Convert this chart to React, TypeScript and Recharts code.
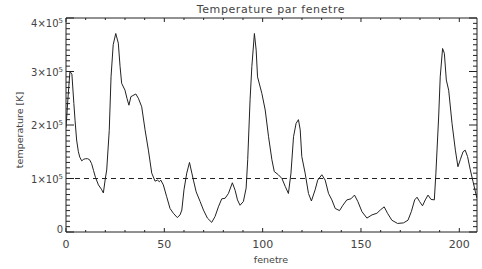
import React from "react";
import { LineChart, Line, XAxis, YAxis, ReferenceLine } from "recharts";

const fenetre = [
  0, 1, 2, 3, 4, 4.6, 5.4, 6.3, 7, 8, 9, 10, 11, 12, 13, 14, 15, 16.5, 18, 19, 20, 20.7, 22, 22.9, 24, 25.3,
  26.6, 27.5, 28.3, 30, 31, 32, 33, 34, 35.5, 36.8, 38.5, 40.2, 41.9, 43.6, 45.3, 46.5, 47.5, 48.2, 49.5,
  51.2, 52.9, 54.6, 56.6, 58, 58.9, 60, 61.4, 62.8, 64, 64.8, 66.2, 68.2, 69.9, 71.9, 74.1, 75.8, 77.5, 79.2,
  80.9, 82.6, 84.6, 86, 87.2, 88.5, 90.2, 91.6, 92.4, 93.6, 94.5, 95.8, 96.7, 97.4, 99.6, 101.3, 103, 104.7,
  105.9, 108, 109.8, 111.5, 113.1, 114.4, 115.7, 117, 118.2, 119.1, 119.9, 121.6, 123.3, 124.8, 126.7, 128,
  130.1, 131.8, 133.5, 135.2, 136.9, 139.1, 140.8, 142.8, 144.9, 146.7, 148.4, 150.5, 153, 155.6, 158.1,
  159.8, 161.8, 163.5, 165.7, 168.6, 171.6, 173.9, 175.6, 177.3, 178.5, 179.8, 181.3, 182.7, 184.1, 185.6,
  187.3, 188.1, 189.5, 190.3, 191.5, 192.4, 193.4, 194.6, 196.3, 198, 199.3, 200.5, 201.9, 203, 204.2, 205.6,
  207, 208.2, 209,
];

const temperature = [
  195000, 250000, 300000, 295000, 240000, 209000, 172000, 150000, 140000, 133000, 136000, 137000, 137000,
  135000, 128000, 115000, 102000, 88000, 80000, 73000, 100000, 116000, 190000, 290000, 350000, 371000,
  353000, 309000, 278000, 265000, 250000, 237000, 253000, 255000, 258000, 250000, 234000, 191000, 153000,
  110000, 95000, 97000, 94000, 97000, 88000, 66000, 44000, 35000, 27000, 32000, 41000, 79000, 110000, 130000,
  110000, 97000, 75000, 57000, 41000, 26000, 18000, 29000, 47000, 62000, 63000, 72000, 92000, 78000, 60000,
  50000, 57000, 82000, 135000, 247000, 309000, 371000, 340000, 290000, 259000, 228000, 178000, 135000,
  113000, 107000, 100000, 85000, 72000, 110000, 178000, 203000, 210000, 191000, 141000, 110000, 72000,
  58000, 79000, 97000, 107000, 97000, 72000, 60000, 44000, 40000, 50000, 60000, 62000, 69000, 57000, 38000,
  26000, 32000, 35000, 41000, 47000, 35000, 22000, 16000, 17000, 22000, 38000, 60000, 65000, 57000, 49000,
  60000, 69000, 61000, 60000, 110000, 215000, 290000, 343000, 334000, 284000, 265000, 203000, 153000,
  122000, 135000, 150000, 153000, 141000, 116000, 94000, 75000, 63000,
];

const xTicks = [0, 10, 20, 30, 40, 50, 60, 70, 80, 90, 100, 110, 120, 130, 140, 150, 160, 170, 180, 190, 200];
const xMajor = [0, 50, 100, 150, 200];
const yTicks = [
  0, 10000, 20000, 30000, 40000, 50000, 60000, 70000, 80000, 90000, 100000, 110000, 120000, 130000, 140000,
  150000, 160000, 170000, 180000, 190000, 200000, 210000, 220000, 230000, 240000, 250000, 260000, 270000,
  280000, 290000, 300000, 310000, 320000, 330000, 340000, 350000, 360000, 370000, 380000, 390000, 400000,
];
const yMajor = [0, 100000, 200000, 300000, 400000];
const threshold = 100000;

const title = "Temperature par fenetre";
const xLabel = "fenetre";
const yLabel = "temperature [K]";

const data = fenetre.map((f, i) => ({ fenetre: f, temperature: temperature[i] }));

const INK = "#222";
const TXT = "#444";
const FONT = "'DejaVu Sans', sans-serif";

const BottomTick = (props: any) => {
  const { x, y, payload } = props;
  const v = payload.value;
  const major = xMajor.includes(v);
  return (
    <g>
      <line x1={x} y1={y} x2={x} y2={y - (major ? 4 : 2)} stroke={INK} strokeWidth={1} />
      {major && (
        <text x={x} y={y + 16} textAnchor="middle" fontSize={11} fontFamily={FONT} fill={TXT}>
          {v}
        </text>
      )}
    </g>
  );
};

const TopTick = (props: any) => {
  const { x, y, payload } = props;
  const major = xMajor.includes(payload.value);
  return <line x1={x} y1={y} x2={x} y2={y + (major ? 4 : 2)} stroke={INK} strokeWidth={1} />;
};

const LeftTick = (props: any) => {
  const { x, y, payload } = props;
  const v = payload.value;
  const major = yMajor.includes(v);
  let dy = 4;
  if (v === 0) dy = 1;
  if (v === 400000) dy = 9;
  return (
    <g>
      <line x1={x} y1={y} x2={x + (major ? 8 : 4)} y2={y} stroke={INK} strokeWidth={1} />
      {major && (
        <text x={x - 3} y={y + dy} textAnchor="end" fontSize={10} fontFamily={FONT} fill={TXT}>
          {v === 0 ? (
            "0"
          ) : (
            <>
              {`${v / 100000}×10`}
              <tspan fontSize={7} dy={-4}>
                5
              </tspan>
            </>
          )}
        </text>
      )}
    </g>
  );
};

const RightTick = (props: any) => {
  const { x, y, payload } = props;
  const major = yMajor.includes(payload.value);
  return <line x1={x} y1={y} x2={x - (major ? 8 : 4)} y2={y} stroke={INK} strokeWidth={1} />;
};

export default function App() {
  return (
    <div style={{ position: "absolute", left: 0, top: 0, width: 482, height: 269, background: "#fff" }}>
      <LineChart width={482} height={269} data={data} margin={{ top: 17, right: 4, bottom: 36, left: 65 }}>
        <XAxis
          xAxisId="b"
          dataKey="fenetre"
          type="number"
          domain={[0, 209]}
          ticks={xTicks}
          allowDataOverflow
          height={1}
          tickSize={0}
          tickMargin={0}
          tickLine={false}
          axisLine={{ stroke: INK }}
          tick={<BottomTick />}
          interval={0}
        />
        <XAxis
          xAxisId="t"
          orientation="top"
          dataKey="fenetre"
          type="number"
          domain={[0, 209]}
          ticks={xTicks}
          allowDataOverflow
          height={1}
          tickSize={0}
          tickMargin={0}
          tickLine={false}
          axisLine={{ stroke: INK }}
          tick={<TopTick />}
          interval={0}
        />
        <YAxis
          yAxisId="l"
          type="number"
          domain={[0, 400000]}
          ticks={yTicks}
          allowDataOverflow
          width={1}
          tickSize={0}
          tickMargin={0}
          tickLine={false}
          axisLine={{ stroke: INK }}
          tick={<LeftTick />}
          interval={0}
        />
        <YAxis
          yAxisId="r"
          orientation="right"
          type="number"
          domain={[0, 400000]}
          ticks={yTicks}
          allowDataOverflow
          width={1}
          tickSize={0}
          tickMargin={0}
          tickLine={false}
          axisLine={{ stroke: INK }}
          tick={<RightTick />}
          interval={0}
        />
        <ReferenceLine xAxisId="b" yAxisId="l" y={threshold} stroke={INK} strokeDasharray="5 4" strokeWidth={1} />
        <Line
          xAxisId="b"
          yAxisId="l"
          type="linear"
          dataKey="temperature"
          stroke={INK}
          strokeWidth={1}
          dot={false}
          isAnimationActive={false}
        />
      </LineChart>
      <svg
        width={482}
        height={269}
        style={{ position: "absolute", left: 0, top: 0, pointerEvents: "none" }}
      >
        <text x={271} y={13} textAnchor="middle" fontSize={11} fontFamily={FONT} fill={TXT} letterSpacing={0.6}>
          {title}
        </text>
        <text x={271} y={263} textAnchor="middle" fontSize={9.5} fontFamily={FONT} fill={TXT}>
          {xLabel}
        </text>
        <text
          x={0}
          y={0}
          transform="translate(23,130) rotate(-90)"
          textAnchor="middle"
          fontSize={9.5}
          fontFamily={FONT}
          fill={TXT}
        >
          {yLabel}
        </text>
      </svg>
    </div>
  );
}
